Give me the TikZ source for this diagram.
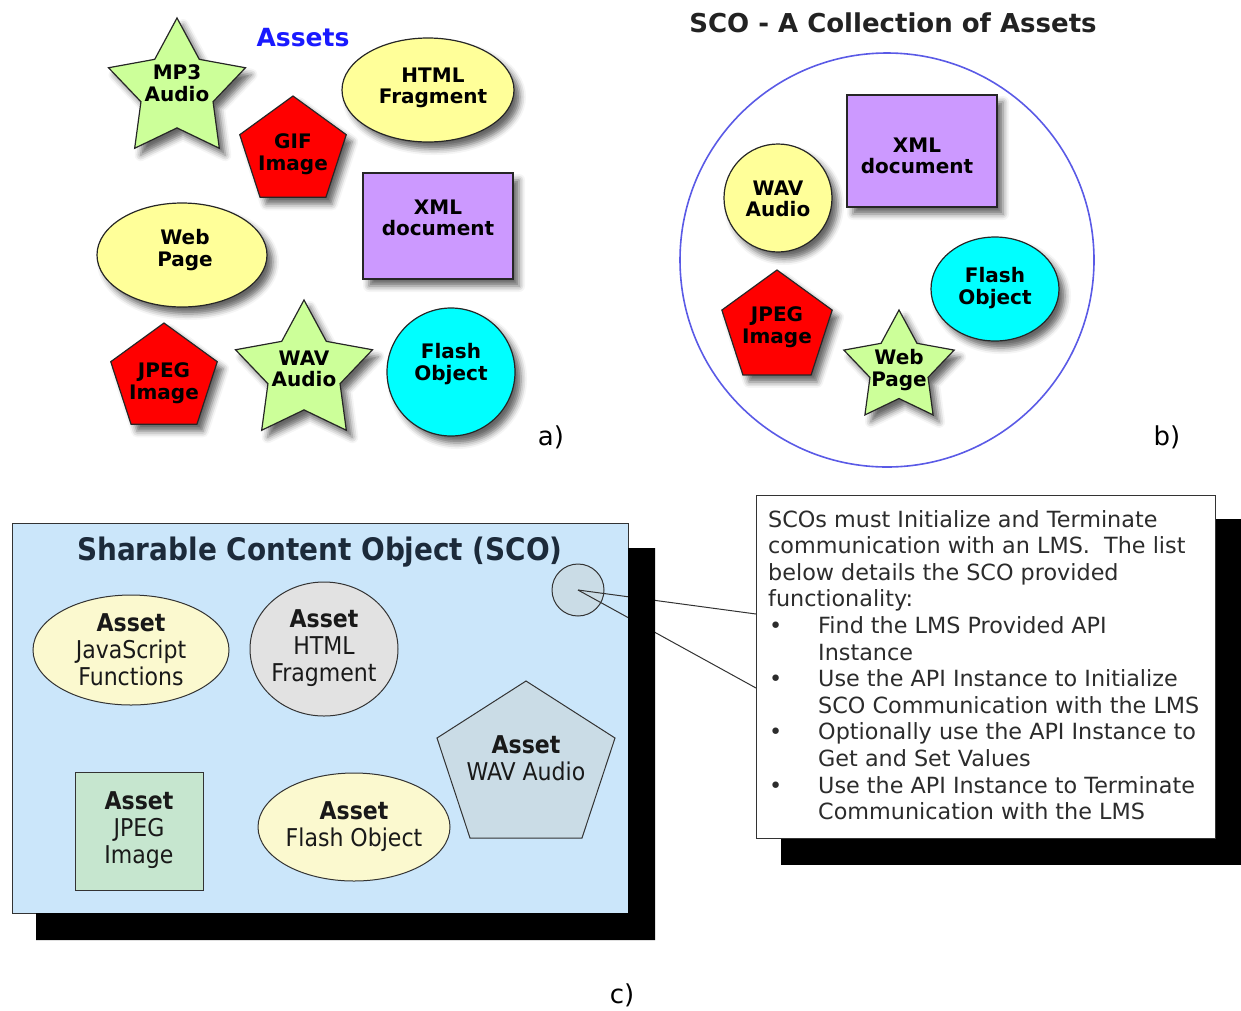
\documentclass[tikz,border=0pt]{standalone}
\usepackage{fontspec}
\setmainfont{DejaVu Sans}
\newfontfamily\condfont{DejaVu Sans Condensed}
\usetikzlibrary{shapes.geometric,shadows.blur}

\definecolor{stargreen}{HTML}{CCFF99}
\definecolor{ovalyellow}{HTML}{FFFF99}
\definecolor{boxpurple}{HTML}{CC99FF}
\definecolor{flashcyan}{HTML}{00FFFF}
\definecolor{titleblue}{HTML}{1A1AFF}
\definecolor{ringblue}{HTML}{5A5AE6}
\definecolor{darktext}{HTML}{222222}
\definecolor{scobg}{HTML}{CBE6FA}
\definecolor{scotitle}{HTML}{1C2A3A}
\definecolor{paleyellow}{HTML}{FBF9CF}
\definecolor{palegray}{HTML}{E2E2E2}
\definecolor{slateblue}{HTML}{CADCE6}
\definecolor{palegreen}{HTML}{C6E6CF}
\definecolor{linegray}{HTML}{333333}
\definecolor{notetext}{HTML}{2C2C2C}

\begin{document}
\begin{tikzpicture}[x=1pt,y=-1pt,
  shadowed/.style={blur shadow={shadow xshift=6pt,shadow yshift=-7pt,shadow blur radius=6pt,shadow opacity=60}},
  asset/.style={draw=black!85,line width=1.2pt,inner sep=0pt,shadowed},
  fivestar/.style={star,star points=5,star point ratio=1.9,asset},
  pentagon/.style={regular polygon,regular polygon sides=5,asset},
  oval/.style={ellipse,asset},
  boxed/.style={rectangle,asset},
  lbl/.style={font=\fontsize{20}{21.5}\selectfont\bfseries,align=center,inner sep=0pt,text=black},
  panel/.style={font=\fontsize{26}{26}\selectfont,inner sep=0pt},
  scoshape/.style={draw=linegray,line width=1pt,inner sep=0pt},
  scolbl/.style={font=\condfont\fontsize{24.5}{27}\selectfont,align=center,inner sep=0pt,text=black!90},
  wire/.style={draw=linegray,line width=1pt}
]
\useasboundingbox (0,0) rectangle (1241,1010);

% ---------- a) loose assets ----------
\node[font=\fontsize{25}{25}\selectfont\bfseries,text=titleblue,inner sep=0pt] (assets) at (303,38) {Assets};

\node[fivestar,fill=stargreen,minimum size=144pt] (mp3) at (177,90) {};
\node[lbl] (mp3t) at (177,83) {MP3\\Audio};

\node[oval,fill=ovalyellow,minimum width=172pt,minimum height=104pt] (htmla) at (428,90) {};
\node[lbl] (htmlat) at (433,88) {HTML\\Fragment};

\node[pentagon,fill=red,minimum size=112pt] (gif) at (293,152) {};
\node[lbl] (gift) at (293,154) {GIF\\Image};

\node[boxed,fill=boxpurple,minimum width=150pt,minimum height=106pt] (xmla) at (438,226) {};
\node[lbl] (xmlat) at (438,218) {XML\\document};

\node[oval,fill=ovalyellow,minimum width=170pt,minimum height=104pt] (weba) at (182,255) {};
\node[lbl] (webat) at (185,250) {Web\\Page};

\node[pentagon,fill=red,minimum size=112pt] (jpega) at (164,379) {};
\node[lbl] (jpegat) at (164,383) {JPEG\\Image};

\node[fivestar,fill=stargreen,minimum size=144pt] (wava) at (304,372) {};
\node[lbl] (wavat) at (304,369) {WAV\\Audio};

\node[circle,asset,fill=flashcyan,minimum size=128pt] (flasha) at (451,372) {};
\node[lbl] (flashat) at (451,364) {Flash\\Object};

\node[panel] (taga) at (551,437) {a)};

% ---------- b) the SCO as a collection ----------
\node[font=\fontsize{26}{26}\selectfont\bfseries,text=darktext,inner sep=0pt] (scob) at (893,23) {SCO - A Collection of Assets};
\node[circle,draw=ringblue,line width=1.6pt,minimum size=414pt,inner sep=0pt] (ring) at (887,260) {};

\node[boxed,fill=boxpurple,minimum width=150pt,minimum height=112pt] (xmlb) at (922,151) {};
\node[lbl] (xmlbt) at (917,156) {XML\\document};

\node[circle,asset,fill=ovalyellow,minimum size=108pt] (wavb) at (778,198) {};
\node[lbl] (wavbt) at (778,199) {WAV\\Audio};

\node[oval,fill=flashcyan,minimum width=128pt,minimum height=104pt] (flashb) at (995,289) {};
\node[lbl] (flashbt) at (995,288) {Flash\\Object};

\node[pentagon,fill=red,minimum size=116pt] (jpegb) at (777,328) {};
\node[lbl] (jpegbt) at (777,327) {JPEG\\Image};

\node[fivestar,fill=stargreen,minimum size=116pt] (webb) at (899,368) {};
\node[lbl] (webbt) at (899,370) {Web\\Page};

\node[panel] (tagb) at (1167,437) {b)};

% ---------- c) SCO with its assets and the API note ----------
\node[rectangle,draw=linegray,line width=1pt,fill=scobg,minimum width=616pt,minimum height=390pt,anchor=north west,inner sep=0pt] (sco) at (12,523) {};
\node[font=\condfont\fontsize{31}{31}\selectfont\bfseries,text=scotitle,inner sep=0pt] (scot) at (320,552) {Sharable Content Object (SCO)};

\node[circle,scoshape,fill=slateblue,minimum size=52pt] (spot) at (578,590) {};

\node[ellipse,scoshape,fill=paleyellow,minimum width=196pt,minimum height=110pt] (js) at (131,650) {};
\node[scolbl] (jst) at (131,650) {\textbf{Asset}\\JavaScript\\Functions};

\node[ellipse,scoshape,fill=palegray,minimum width=148pt,minimum height=134pt] (htmlc) at (324,649) {};
\node[scolbl] (htmlct) at (324,648) {\textbf{Asset}\\HTML\\Fragment};

\draw[scoshape,fill=slateblue] (526,681) -- (615,738) -- (582,838) -- (470,838) -- (437,738) -- cycle;
\node[scolbl] (wavct) at (526,758) {\textbf{Asset}\\WAV Audio};

\node[rectangle,scoshape,fill=palegreen,minimum width=128pt,minimum height=118pt] (jpegc) at (139,831) {};
\node[scolbl] (jpegct) at (139,830) {\textbf{Asset}\\JPEG\\Image};

\node[ellipse,scoshape,fill=paleyellow,minimum width=192pt,minimum height=108pt] (flashc) at (354,827) {};
\node[scolbl] (flashct) at (354,827) {\textbf{Asset}\\Flash Object};

% callout wires from the spot to the note
\coordinate (noteA) at (756,614);
\coordinate (noteB) at (756,688);
\draw[wire] (spot.center) -- (noteA);
\draw[wire] (spot.center) -- (noteB);

% drop shadow of the SCO panel
\fill[black] (628,548) -- (655,548) -- (655,940) -- (36,940) -- (36,913) -- (628,913) -- cycle;

% note with its shadow
\fill[black] (781,519) rectangle (1241,865);
\node[rectangle,draw=linegray,line width=1pt,fill=white,minimum width=459pt,minimum height=343pt,anchor=north west,inner sep=0pt] (note) at (756,495) {};
\node[font=\fontsize{22.3}{26.6}\selectfont,text=notetext,align=left,inner sep=0pt,anchor=north west] (notet) at (768,510) {%
SCOs must Initialize and Terminate\\
communication with an LMS.\ \ The list\\
below details the SCO provided\\
functionality:\\
\makebox[50pt][l]{\hspace{1pt}•}Find the LMS Provided API\\
\hspace*{50pt}Instance\\
\makebox[50pt][l]{\hspace{1pt}•}Use the API Instance to Initialize\\
\hspace*{50pt}SCO Communication with the LMS\\
\makebox[50pt][l]{\hspace{1pt}•}Optionally use the API Instance to\\
\hspace*{50pt}Get and Set Values\\
\makebox[50pt][l]{\hspace{1pt}•}Use the API Instance to Terminate\\
\hspace*{50pt}Communication with the LMS};

\node[panel] (tagc) at (622,995) {c)};
\end{tikzpicture}
\end{document}
